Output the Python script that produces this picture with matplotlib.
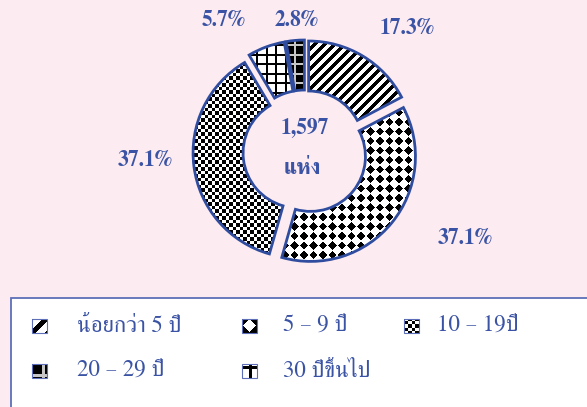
import matplotlib
matplotlib.use("Agg")
import matplotlib.pyplot as plt
from matplotlib.patches import Rectangle
import numpy as np

# ---- data ----
categories = ["น้อยกว่า 5 ปี", "5 – 9 ปี", "10 – 19ปี", "20 – 29 ปี", "30 ปีขึ้นไป"]
shares = [17.3, 37.1, 37.1, 2.8, 5.7]
total_text = "1,597"
unit_text = "แห่ง"
# order of the slices clockwise from 12 o'clock
pie_order = [0, 1, 2, 4, 3]

# ---- style ----
BG = "#FCEBF1"
BLUE = "#3B53A4"
EDGE = "#2F4C9E"
FONT = ["FreeSerif", "DejaVu Serif"]
patterns = ["stripe", "diamond", "dots", "grid_inv", "grid"]
# label centres in pixels (x, y from top)
label_pos = {0: (407, 29), 1: (465, 238), 2: (145, 160), 3: (297, 20), 4: (224, 20)}
# legend slots (icon left x, text left x, row centre y from top)
legend_slots = [(32, 77, 326), (242, 283, 326), (404, 437, 326),
                (32, 77, 371), (242, 283, 371)]
W, H = 587, 407


def pattern_rgb(kind, u, v, s=1.0, thr=0.45):
    """return an RGB array (0..1) for a fill pattern on pixel grid u, v"""
    if kind == "stripe":
        P = 10 * s
        black = ((u - v) % P) < 0.42 * P
    elif kind == "diamond":
        P = 9.5 * s
        du = ((u + P / 2) % P) - P / 2
        dv = ((v + P / 2) % P) - P / 2
        black = (np.abs(du) + np.abs(dv)) < thr * P
    elif kind == "dots":
        P = 7 * s
        h = 1.6 * s
        black = np.zeros_like(u, dtype=bool)
        for ox, oy in [(0, 0), (P / 2, P / 2)]:
            du = ((u - ox + P / 2) % P) - P / 2
            dv = ((v - oy + P / 2) % P) - P / 2
            black |= (np.abs(du) < h) & (np.abs(dv) < h)
    elif kind == "grid":
        P = 9.5 * s
        lw = 1.8 * s
        black = ((u % P) < lw) | ((v % P) < lw)
    else:  # grid_inv: black with light lines
        P = 9.5 * s
        lw = 1.6 * s
        light = ((u % P) < lw) | ((v % P) < lw)
        img = np.zeros(u.shape + (3,))
        img[light] = 0.78
        return img
    img = np.ones(u.shape + (3,))
    img[black] = 0.0
    return img


fig = plt.figure(figsize=(W / 100, H / 100), dpi=100, facecolor=BG)
ax = fig.add_axes([0, 0, 1, 1])
ax.set_facecolor(BG)

cx, cy = 305, H - 152
radius = 105
vals = [shares[i] for i in pie_order]
# explode is in data units (pixels here)
wedges, _ = ax.pie(vals, center=(cx, cy), radius=radius, startangle=90,
                   counterclock=False, explode=[7] * len(vals),
                   wedgeprops=dict(width=50, facecolor="none", edgecolor=EDGE,
                                   linewidth=2.0, zorder=3))

# pattern fill for every wedge, clipped to its outline
x0, x1 = cx - 130, cx + 130
y0, y1 = cy - 130, cy + 130
uu, vv = np.meshgrid(np.arange(x0, x1) + 0.5, np.arange(y0, y1) + 0.5)
for w, idx in zip(wedges, pie_order):
    im = ax.imshow(pattern_rgb(patterns[idx], uu, vv), extent=[x0, x1, y0, y1],
                   origin="lower", interpolation="nearest", zorder=2)
    im.set_clip_path(w)

# percentage labels
for idx, val in enumerate(shares):
    px, py = label_pos[idx]
    ax.text(px, H - py, f"{val:.1f}%", ha="center", va="center", color=BLUE,
            fontsize=15.5, fontweight="bold", family=FONT, zorder=5)

ax.text(cx, H - 128, total_text, ha="center", va="center", color=BLUE,
        fontsize=15.5, fontweight="bold", family=FONT, zorder=5)
ax.text(cx - 3, H - 168, unit_text, ha="center", va="center", color=BLUE,
        fontsize=15.5, fontweight="bold", family=FONT, zorder=5)

# legend box
ax.add_patch(Rectangle((11, -20), W + 20, H - 298 + 20, facecolor="white",
                       edgecolor="#5D6FB8", linewidth=1.3, zorder=1))
icon_w, icon_h = 15, 14
for idx, (lx, tx, ly) in enumerate(legend_slots):
    bx, by = lx, H - ly - icon_h / 2
    box = Rectangle((bx, by), icon_w, icon_h, facecolor="none",
                    edgecolor="#5D6FB8", linewidth=0.8, zorder=4)
    ax.add_patch(box)
    iu, iv = np.meshgrid(np.arange(icon_w) + 0.5, np.arange(icon_h) + 0.5)
    s, thr = 1.55, 0.45
    if patterns[idx] == "grid":
        iu, iv = iu + 7.5, iv + 6
    elif patterns[idx] == "grid_inv":
        iu, iv = iu + 4.5, iv + 13.5
    elif patterns[idx] == "stripe":
        iu = iu + 3
    elif patterns[idx] == "diamond":
        s, thr = 1.58, 0.55
    elif patterns[idx] == "dots":
        s = 1.0
        iu = iu + 1
    ax.imshow(pattern_rgb(patterns[idx], iu, iv, s=s, thr=thr),
              extent=[bx, bx + icon_w, by, by + icon_h], origin="lower",
              interpolation="nearest", zorder=3)
    ax.text(tx, H - ly, categories[idx], ha="left", va="center",
            color=BLUE, fontsize=16.5, family=FONT, zorder=5)

ax.set_xlim(0, W)
ax.set_ylim(0, H)
ax.set_aspect("auto")
ax.axis("off")
fig.savefig("out.png", dpi=100, facecolor=BG)
